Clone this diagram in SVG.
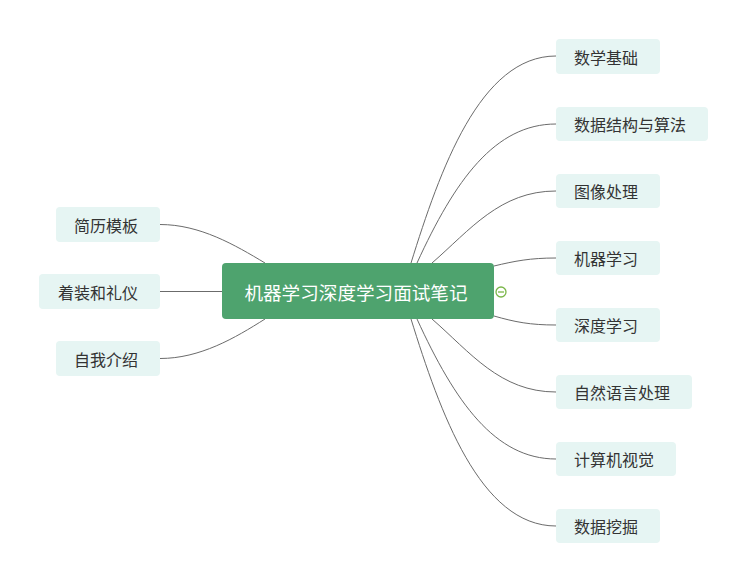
<svg xmlns="http://www.w3.org/2000/svg" width="748" height="583" viewBox="0 0 748 583">
<style>
.c{fill:none;stroke:#6b6b6b;stroke-width:1}
.n rect{fill:#E6F5F3}
.n text{font-family:"Noto Sans CJK SC","Noto Sans",sans-serif;font-size:16px;fill:#333;text-anchor:middle;dominant-baseline:central}
.root rect{fill:#4EA36E}
.root text{font-family:"Noto Sans CJK SC","Noto Sans",sans-serif;font-size:18.6px;fill:#fff;text-anchor:middle;dominant-baseline:central}
</style>
<rect width="748" height="583" fill="#fff"/>
<g id="connectors">
<path class="c" d="M411,263 C440,170 480,56 556,56"/>
<path class="c" d="M417,263 C455,180 495,124 556,124"/>
<path class="c" d="M432,263 C470,230 500,191 556,191"/>
<path class="c" d="M494,266 C515,261 530,258 556,258"/>
<path class="c" d="M494,316 C515,322 530,325 556,325"/>
<path class="c" d="M432,319 C470,352 500,392 556,392"/>
<path class="c" d="M417,319 C455,402 495,459 556,459"/>
<path class="c" d="M411,319 C440,412 480,526 556,526"/>
<path class="c" d="M160,224.5 C200,224.5 235,245 265,263"/>
<path class="c" d="M160,291.5 L222,291.5"/>
<path class="c" d="M160,358.5 C200,358.5 235,338 265,319"/>
</g>
<g id="root" class="root">
<rect x="222" y="263" width="272" height="56" rx="4"/>
<text x="356" y="291">机器学习深度学习面试笔记</text>
</g>
<g id="collapse">
<circle cx="501" cy="292" r="5" fill="#fff" stroke="#7ab648" stroke-width="1.3"/>
<line x1="498" y1="292" x2="504" y2="292" stroke="#7ab648" stroke-width="1.3"/>
</g>
<g id="n1" class="n"><rect x="556" y="39" width="104" height="35" rx="4"/><text x="606" y="56.5">数学基础</text></g>
<g id="n2" class="n"><rect x="556" y="107" width="152" height="34" rx="4"/><text x="630" y="124">数据结构与算法</text></g>
<g id="n3" class="n"><rect x="556" y="174" width="104" height="34" rx="4"/><text x="606" y="191">图像处理</text></g>
<g id="n4" class="n"><rect x="556" y="241" width="104" height="34" rx="4"/><text x="606" y="258">机器学习</text></g>
<g id="n5" class="n"><rect x="556" y="308" width="104" height="34" rx="4"/><text x="606" y="325">深度学习</text></g>
<g id="n6" class="n"><rect x="556" y="375" width="136" height="34" rx="4"/><text x="622" y="392">自然语言处理</text></g>
<g id="n7" class="n"><rect x="556" y="442" width="120" height="34" rx="4"/><text x="614" y="459">计算机视觉</text></g>
<g id="n8" class="n"><rect x="556" y="509" width="104" height="34" rx="4"/><text x="606" y="526">数据挖掘</text></g>
<g id="l1" class="n"><rect x="56" y="207" width="104" height="35" rx="4"/><text x="106" y="224.5">简历模板</text></g>
<g id="l2" class="n"><rect x="39" y="274" width="121" height="35" rx="4"/><text x="98" y="291.5">着装和礼仪</text></g>
<g id="l3" class="n"><rect x="56" y="341" width="104" height="35" rx="4"/><text x="106" y="358.5">自我介绍</text></g>
</svg>
